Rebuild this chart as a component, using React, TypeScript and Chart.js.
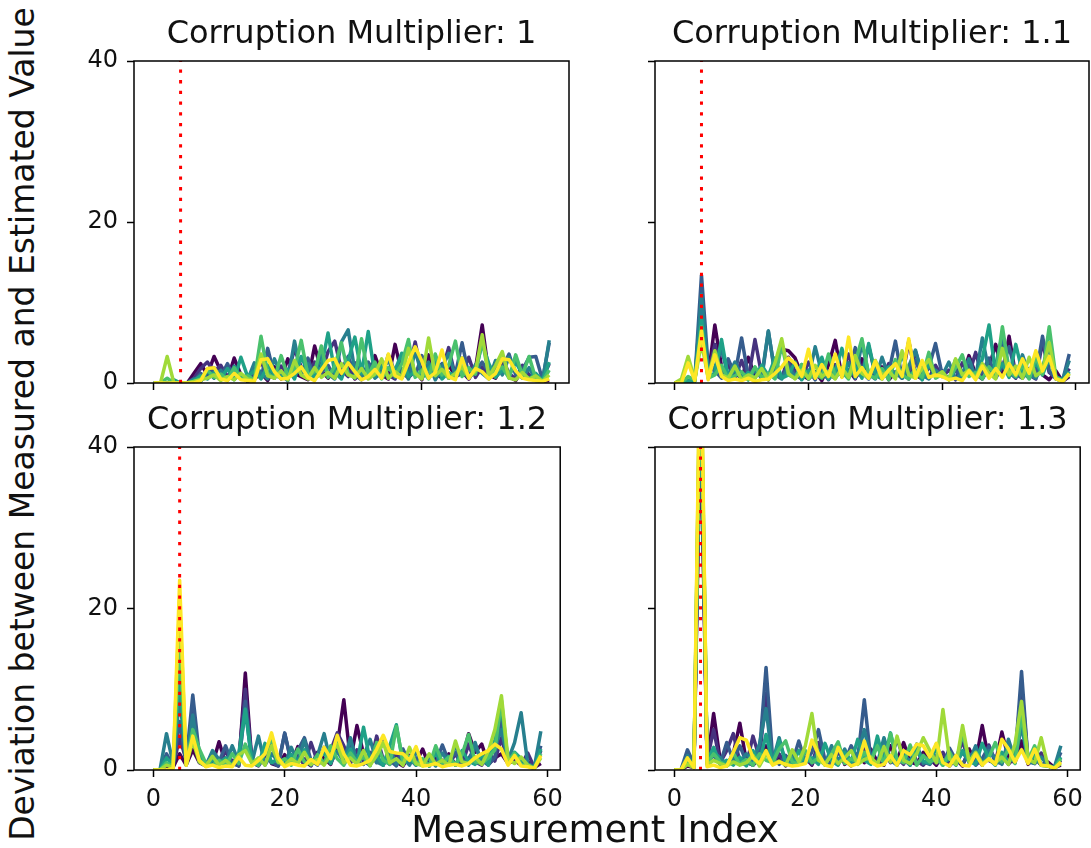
import React, { useEffect, useRef } from "react";
import { Chart, registerables } from "chart.js";

Chart.register(...registerables);

const FONT = "'DejaVu Sans', 'Liberation Sans', sans-serif";

// viridis, 8 evenly spaced samples (first run drawn at the bottom)
const SERIES_COLORS = [
  "#440154", "#46327e", "#365c8d", "#277f8e",
  "#1fa187", "#4ac16d", "#a0da39", "#fde725",
];

const TITLES = [
  "Corruption Multiplier: 1",
  "Corruption Multiplier: 1.1",
  "Corruption Multiplier: 1.2",
  "Corruption Multiplier: 1.3",
];

const CORRUPTED_INDEX = 4;
const Y_TICKS = [0, 20, 40];
const X_TICKS = [0, 20, 40, 60];
const Y_RANGE = [0, 40];
const X_RANGE = [-2.95, 61.95];

const X_LABEL = "Measurement Index";
const Y_LABEL = "Deviation between Measured and Estimated Value";

// ---- Multiplier 1 ----
const m1_s0 = [0,0,0,0,0,0,1.2,2.4,1.0,3.3, 1.5,0.4,3.1,1.0,0.2,0.5,1.2,0.3,2.0,0.5, 3.0,1.2,0.8,0.4,4.6,1.5,0.6,1.8,0.9,2.2, 0.5,1.4,0.6,3.4,1.0,0.5,4.8,1.2,0.7,1.5, 0.4,3.5,1.2,0.6,2.2,0.9,1.4,0.5,1.8,7.2, 1.0,0.6,2.3,0.8,0.3,1.6,0.5,0.4,0.2,0.3];
const m1_s1 = [0,0,0,0,0,0,0.6,1.8,2.6,1.4, 2.2,0.8,1.5,0.6,0.3,1.2,2.6,1.0,0.6,2.1, 1.2,4.2,2.0,0.9,2.6,1.0,3.9,5.2,1.6,0.8, 2.5,1.1,0.7,1.6,2.4,1.0,0.5,2.9,1.3,5.1, 1.0,2.1,0.6,1.5,4.4,0.8,1.2,3.2,0.7,2.0, 0.6,1.5,3.0,1.2,0.5,2.2,1.0,0.4,0.6,2.4];
const m1_s2 = [0,0,0,0,0,0,0.3,1.2,0.6,1.9, 0.8,2.4,0.5,1.1,0.2,1.8,0.6,4.3,0.9,1.4, 0.6,2.0,1.1,3.1,0.5,1.3,2.2,0.7,1.6,3.3, 1.0,0.4,2.6,1.2,0.8,3.5,1.3,0.6,2.0,0.9, 3.4,0.7,1.5,2.4,0.6,1.1,5.0,0.9,1.4,2.6, 1.3,0.8,1.9,3.6,1.0,1.6,3.2,3.3,0.4,5.0];
const m1_s3 = [0,0,0,0,0,0,0.5,0.2,1.4,0.6, 1.6,0.3,2.1,0.8,0.4,2.5,1.2,0.5,3.0,1.0, 0.3,5.2,1.0,2.4,0.6,3.8,1.1,0.5,5.1,6.6, 1.5,0.8,2.2,0.6,1.3,2.9,0.7,1.8,0.5,4.0, 1.0,2.6,0.4,1.9,3.7,0.8,1.5,0.6,2.3,1.2, 0.5,2.8,1.0,3.2,1.4,0.6,1.9,0.3,0.2,5.3];
const m1_s4 = [0,0,0,0.4,0,0,0.3,0.9,0.5,1.3, 0.6,1.8,0.4,3.2,0.8,1.5,0.5,2.2,1.0,0.6, 1.7,0.5,3.3,1.4,0.7,2.0,6.2,1.3,0.5,2.8, 5.7,1.2,6.4,0.9,2.1,0.6,1.6,3.7,0.8,1.4, 0.6,1.8,2.7,0.5,1.3,0.9,3.1,0.6,1.5,4.9, 2.4,0.7,1.6,0.9,2.6,1.1,0.5,1.2,0.3,2.6];
const m1_s5 = [0,0,0.6,0,0,0,0.2,0.5,1.6,0.7, 1.1,0.4,1.9,0.5,0.9,0.4,5.8,1.2,0.6,3.4, 0.8,1.6,5.3,0.9,1.4,4.6,0.7,2.1,5.0,1.2, 0.6,5.5,1.0,2.6,0.5,1.9,0.9,2.4,5.4,0.7, 1.6,0.5,3.6,1.0,2.2,5.2,0.8,1.9,1.1,5.3, 0.9,1.4,2.0,0.6,3.5,1.0,3.3,0.5,0.2,1.6];
const m1_s6 = [0,0,3.3,0,0,0,0.2,0.4,0.6,1.0, 0.3,0.8,0.4,1.2,0.5,0.3,3.6,0.9,0.6,1.5, 0.4,2.8,1.0,0.5,1.9,0.7,1.3,0.6,2.4,1.0, 0.7,1.8,0.5,1.1,3.0,0.6,1.4,0.8,4.3,1.2, 0.5,5.6,0.9,1.7,0.6,1.2,2.0,0.7,1.5,6.0, 0.8,2.2,3.9,0.6,0.4,1.3,0.5,0.9,0.2,1.0];
const m1_s7 = [0,0,0,0,0,0,0,0.3,1.8,1.9, 0.5,0.3,1.2,0.4,0.3,0.2,2.9,3.0,1.4,0.5, 0.6,1.2,2.0,0.7,0.3,1.6,2.8,3.0,1.2,2.5, 1.4,0.4,0.8,1.7,0.6,3.6,0.9,0.5,2.6,4.5, 2.7,0.6,1.3,4.1,0.8,0.4,3.1,0.6,1.8,1.4, 0.5,1.2,3.0,2.9,1.5,0.6,0.4,0.3,0.2,0.5];

// ---- Multiplier 1.1 ----
const m11_s0 = [0,0,0.3,0.5,6.0,0.8,7.2,2.0,0.5,1.2, 0.6,3.2,0.8,1.5,0.4,2.6,4.2,4.0,3.1,1.0, 0.5,1.4,0.3,2.2,5.3,0.8,1.6,0.5,3.0,1.2, 0.7,2.0,0.4,1.3,0.6,5.2,1.0,0.5,2.1,0.9, 1.5,0.4,1.9,0.7,3.4,1.1,0.5,2.0,4.8,1.3, 5.8,0.9,1.6,0.6,2.4,1.0,0.4,1.5,0.2,0.8];
const m11_s1 = [0,0,0.2,0.6,9.0,1.2,4.8,1.0,2.2,0.6, 2.8,0.5,5.4,1.0,0.8,1.9,0.6,3.2,1.4,0.5, 2.6,0.9,1.7,0.4,2.3,1.1,3.6,0.7,1.5,4.6, 1.0,0.6,2.4,0.9,1.8,0.5,3.9,1.2,0.6,2.2, 0.8,1.6,0.4,2.5,1.0,3.8,0.7,1.9,1.2,5.6, 1.4,0.6,2.8,1.0,0.5,5.1,1.3,0.6,0.3,1.8];
const m11_s2 = [0,0,0,0.4,13.4,2.0,1.5,0.6,3.0,1.0, 5.6,0.8,1.9,0.5,6.4,1.2,0.7,2.4,1.0,0.5, 1.6,0.4,2.6,1.0,0.6,1.8,0.9,4.4,1.3,0.5, 2.0,0.8,1.3,5.2,0.6,1.5,2.8,0.7,1.9,4.9, 1.0,0.5,1.6,0.4,2.2,0.8,1.4,3.1,0.6,2.0, 4.5,1.1,0.6,1.8,0.9,5.8,1.5,0.5,0.3,3.6];
const m11_s3 = [0,0,0,0.3,11.0,1.5,2.0,4.2,0.8,2.6, 1.0,0.4,1.6,0.8,6.5,1.0,0.5,1.9,0.7,2.3, 0.6,4.5,1.2,0.5,1.7,0.9,2.5,0.6,5.0,1.1, 0.5,3.2,0.8,1.4,0.6,2.1,4.1,1.0,0.5,1.6, 0.9,2.6,0.5,1.2,3.0,0.7,5.6,1.4,2.2,6.0, 1.2,0.7,3.5,1.0,0.6,2.0,4.4,0.8,0.4,2.8];
const m11_s4 = [0,0,0.3,0.2,8.0,0.9,1.2,5.4,0.6,1.7, 0.5,1.3,0.6,2.2,0.9,3.1,0.6,1.0,2.6,0.4, 1.5,0.8,3.2,0.5,1.4,4.3,0.8,2.0,0.6,4.9, 1.0,0.5,2.0,0.7,3.6,0.9,1.6,0.4,2.4,0.8, 1.3,0.5,2.9,0.8,1.6,0.6,3.0,7.2,1.0,2.4, 0.7,4.8,1.3,0.6,2.5,1.0,3.1,0.5,0.2,1.4];
const m11_s5 = [0,0,0.8,0.4,7.0,0.6,1.0,2.2,0.5,0.9, 1.4,0.4,2.0,0.7,1.2,0.5,4.8,1.0,0.6,2.3, 0.5,1.2,0.6,3.6,0.9,1.4,0.5,2.6,5.5,1.0, 0.6,1.8,0.4,2.9,1.0,0.5,1.6,0.7,3.8,0.6, 1.1,0.4,1.9,3.5,0.8,1.3,0.5,2.0,1.0,7.0, 1.6,0.8,2.2,0.5,3.2,1.1,7.0,0.7,0.3,1.2];
const m11_s6 = [0,0.5,3.3,0.4,5.0,0.7,4.0,1.0,0.6,2.1, 0.4,1.0,0.6,1.8,0.4,2.5,5.5,1.2,0.5,1.6, 0.6,2.2,0.8,1.4,0.5,1.9,0.7,3.4,1.2,0.6, 2.8,0.9,1.5,0.5,4.0,1.0,0.6,1.8,2.9,0.8, 1.4,0.4,3.0,1.0,1.6,0.6,2.4,1.2,0.5,4.3, 1.0,2.1,0.6,3.2,0.9,1.5,5.0,0.6,0.2,1.1];
const m11_s7 = [0,0,2.5,0.3,6.5,0.4,3.5,0.8,0.3,0.5, 0.3,0.6,0.2,0.4,0.5,1.2,2.0,3.1,2.4,0.8, 4.2,0.6,2.3,0.8,3.6,0.7,5.7,0.8,1.9,0.6, 2.7,0.5,1.6,2.4,0.8,5.5,0.6,2.8,0.7,1.0, 0.8,0.4,0.6,0.3,1.5,0.4,2.1,0.6,1.8,0.7, 2.4,1.0,3.0,1.2,4.0,1.5,3.3,0.5,0.2,1.2];

// ---- Multiplier 1.2 ----
const m12_s0 = [0,0,0.5,0.3,2.0,0.6,2.5,0.9,0.5,0.7, 3.5,0.8,1.2,0.5,12.0,1.0,0.6,2.6,0.8,0.5, 1.9,0.7,2.9,1.1,0.5,2.2,1.4,0.7,3.0,8.7, 1.2,5.5,2.0,0.8,1.6,0.6,2.4,1.0,0.5,1.8, 0.9,2.6,0.5,1.4,0.8,2.0,0.6,1.3,4.5,2.2, 3.2,0.7,1.5,2.0,0.8,1.2,0.6,1.0,0.3,0.8];
const m12_s1 = [0,0,0.8,0.4,4.0,1.2,7.2,1.5,0.6,1.2, 0.7,2.4,0.6,1.3,10.0,0.9,0.5,1.7,3.1,0.6, 4.5,1.0,1.8,0.6,3.4,1.0,0.8,2.4,4.6,3.0, 0.8,2.5,1.1,0.6,4.2,1.3,0.7,2.0,0.9,1.4, 0.6,1.2,0.5,2.3,1.0,0.7,2.0,0.6,3.2,1.0, 0.6,2.4,1.1,4.0,0.8,1.5,0.6,2.1,0.3,2.4];
const m12_s2 = [0,0,2.0,0.5,6.0,1.0,9.3,1.8,0.7,2.0, 1.0,3.0,0.8,0.5,8.5,1.4,0.6,2.2,1.0,0.5, 4.6,0.9,2.4,4.0,1.2,0.6,2.8,1.4,3.5,1.0, 3.6,1.1,0.7,2.2,0.9,4.0,1.2,0.5,2.6,0.8, 1.5,0.6,1.9,0.8,3.1,1.0,2.2,0.7,1.4,2.8, 1.2,0.6,1.6,6.8,0.9,2.0,1.0,0.5,0.3,3.0];
const m12_s3 = [0,0,4.5,0.8,9.0,1.2,6.8,1.0,0.5,2.4, 1.3,0.6,3.0,1.0,7.6,0.9,4.2,0.6,2.0,1.1, 0.7,2.8,1.0,3.7,0.6,1.8,4.5,0.9,2.3,1.0, 4.0,0.9,1.7,3.8,1.0,0.6,2.6,0.7,1.5,0.6, 2.3,0.8,1.4,0.5,2.1,0.9,3.0,1.3,0.6,3.4, 0.8,1.6,2.9,5.0,1.2,3.4,7.1,0.8,0.3,4.8];
const m12_s4 = [0,0,1.5,0.6,12.0,0.8,4.0,1.6,0.6,1.2, 0.8,1.5,0.5,2.0,7.5,1.1,0.6,3.3,0.9,1.4, 0.6,1.9,0.9,2.5,0.7,1.5,2.1,0.8,3.9,1.2, 2.6,0.7,5.3,1.1,1.8,0.6,3.0,5.6,0.8,1.5, 0.6,1.2,0.5,2.1,0.8,1.7,0.6,2.4,1.1,0.7, 1.9,0.6,3.7,8.0,1.0,2.2,1.4,0.6,0.2,2.6];
const m12_s5 = [0,0,0.9,0.4,16.0,0.7,5.0,2.6,0.8,0.6, 1.2,0.5,2.0,0.8,3.2,1.0,0.6,2.2,4.0,0.9, 1.4,0.6,2.6,1.0,0.7,1.9,0.8,3.0,1.4,0.6, 2.1,1.0,1.6,0.5,3.4,1.2,0.7,5.4,1.1,1.7, 0.7,1.4,0.5,3.0,0.9,1.6,0.6,1.9,4.4,1.0, 0.8,1.5,2.5,8.6,1.0,2.1,0.7,0.5,0.2,2.0];
const m12_s6 = [0,0,0.6,0.3,21.0,0.6,3.6,1.0,0.5,1.7, 0.6,1.2,0.5,1.9,2.4,0.8,1.5,0.6,3.0,1.0, 0.6,1.4,0.8,2.2,0.7,1.3,0.6,1.9,3.2,0.9, 1.5,0.7,2.4,0.6,1.8,3.4,0.9,1.4,0.6,2.8, 0.8,0.5,2.0,0.7,1.2,0.6,3.6,1.0,0.8,1.6, 0.7,2.3,5.0,9.2,1.4,0.8,1.6,0.6,0.2,1.5];
const m12_s7 = [0,0,0,0.2,23.5,0.6,4.2,1.2,0.4,0.6, 0.3,0.5,0.4,1.6,0.6,0.5,1.2,2.0,4.6,1.5, 0.4,0.8,0.6,0.5,1.3,0.7,2.8,1.4,4.3,2.0, 0.6,0.5,0.8,1.2,2.6,4.3,2.3,2.1,2.0,1.2, 2.9,0.5,0.6,0.8,0.4,0.6,0.7,0.5,0.8,1.5, 2.0,2.4,3.2,2.6,0.6,1.8,0.5,0.4,0.2,1.8];

// ---- Multiplier 1.3 ----
const m13_s0 = [0,0,0.5,0.3,44,0.8,7.0,1.2,0.6,2.0, 5.8,1.0,0.6,1.4,3.0,0.8,1.6,0.5,2.3,0.9, 1.5,0.6,2.4,0.8,1.2,3.1,0.7,1.4,2.0,0.9, 2.6,1.0,0.6,3.0,1.2,3.4,1.0,0.7,2.2,1.4, 0.6,1.9,0.8,1.3,0.5,2.6,1.0,5.5,1.2,0.8, 4.7,1.4,0.9,3.6,0.7,1.5,0.6,1.0,0.3,0.6];
const m13_s1 = [0,0,0.8,0.6,46,1.2,5.0,0.9,2.4,4.5, 1.0,0.6,4.2,1.5,9.5,0.8,2.0,0.6,1.4,0.9, 2.3,0.7,3.4,1.0,0.6,2.2,1.2,0.5,1.8,2.7, 1.0,0.6,2.5,0.9,1.5,0.7,2.9,1.1,0.6,1.6, 0.8,2.2,0.5,1.4,3.6,0.9,1.5,0.6,3.1,1.1, 2.0,0.7,1.6,10.5,1.2,0.8,2.1,0.5,0.3,1.2];
const m13_s2 = [0,0,2.5,0.7,48,1.0,1.8,0.8,3.4,1.2, 3.0,1.0,0.6,2.2,12.7,1.5,0.7,1.8,0.9,3.6, 1.0,2.2,5.0,1.2,0.6,2.6,1.0,3.0,1.4,8.7, 1.2,0.7,2.0,1.0,3.9,1.3,0.6,2.4,1.0,0.7, 1.8,0.6,2.7,1.2,0.8,2.0,0.6,1.4,2.9,1.0, 0.8,2.5,1.3,12.2,1.0,2.0,0.7,0.5,0.3,2.2];
const m13_s3 = [0,0,1.8,0.5,50,0.9,2.2,1.5,0.7,1.3, 0.8,2.0,1.1,3.2,7.6,1.0,4.0,0.8,2.1,0.7, 1.5,0.9,2.4,0.6,3.0,1.1,2.6,0.8,1.9,5.0, 1.4,0.8,4.0,1.2,0.6,2.0,1.0,3.2,0.8,1.3, 2.6,0.7,1.5,0.9,2.2,1.0,3.0,0.6,2.4,1.5, 0.7,3.8,1.2,5.5,1.0,0.8,1.6,0.6,0.3,3.0];
const m13_s4 = [0,0,1.2,0.6,52,1.1,2.8,0.7,1.2,0.6, 1.6,0.5,2.4,0.9,4.4,0.8,3.6,1.0,0.6,2.4, 0.9,1.5,0.7,3.3,1.1,0.6,2.2,1.0,3.8,1.2, 0.7,4.2,1.0,4.6,0.8,1.6,0.6,2.6,1.1,0.8, 3.2,0.9,1.4,0.6,2.4,1.1,0.7,3.3,1.4,0.6, 2.2,1.0,1.6,6.5,0.9,1.8,0.6,0.5,0.2,1.6];
const m13_s5 = [0,0,0.9,0.4,54,0.8,2.0,1.0,0.5,2.1, 0.7,1.3,0.6,2.0,1.2,0.9,2.6,3.6,1.0,0.7, 2.4,0.9,1.5,0.6,2.0,3.5,0.8,1.4,0.9,2.2, 1.0,3.0,0.7,4.5,1.4,0.9,3.1,0.6,1.8,1.0, 1.4,0.6,2.2,0.8,4.6,1.0,2.0,0.7,1.5,3.4, 1.0,2.6,0.8,7.0,1.2,3.0,0.6,0.5,0.2,1.4];
const m13_s6 = [0,0,0.7,0.3,56,0.6,1.2,0.8,0.5,1.0, 0.6,0.9,1.8,0.5,2.0,0.7,1.1,0.6,2.5,1.0, 3.0,7.0,1.2,0.7,1.9,0.8,1.5,2.4,0.7,1.3, 1.6,0.7,2.9,1.0,4.2,1.2,0.8,2.0,4.0,2.4, 0.9,7.5,1.4,0.7,5.5,1.0,2.2,0.8,1.3,0.9, 1.6,0.7,3.2,8.5,1.4,0.9,4.0,0.6,0.2,0.8];
const m13_s7 = [0,0,1.5,0.3,58,0.4,0.6,0.3,0.5,2.2, 4.0,3.7,1.5,0.8,2.4,0.6,1.0,0.7,0.5,0.6, 0.8,3.7,2.0,0.6,0.4,2.8,1.2,0.5,0.8,3.6, 1.0,0.5,0.7,1.8,0.6,2.4,1.9,3.2,3.0,1.6, 3.3,0.9,0.5,1.8,0.6,0.5,2.0,0.6,1.4,0.7, 3.8,2.6,1.0,2.5,0.8,2.6,0.6,0.5,0.2,1.0];

const PANEL_SERIES = [
  [m1_s0, m1_s1, m1_s2, m1_s3, m1_s4, m1_s5, m1_s6, m1_s7],
  [m11_s0, m11_s1, m11_s2, m11_s3, m11_s4, m11_s5, m11_s6, m11_s7],
  [m12_s0, m12_s1, m12_s2, m12_s3, m12_s4, m12_s5, m12_s6, m12_s7],
  [m13_s0, m13_s1, m13_s2, m13_s3, m13_s4, m13_s5, m13_s6, m13_s7],
];

// ---- layout (pixels) ----
const PLOT_LEFT = [134, 655];
const PLOT_RIGHT = [569, 1089];
const PLOT_TOP = [61, 447];
const PLOT_BOTTOM = [383, 770];
const Y_AXIS_W = 60;
const RIGHT_PAD = 2;
const TITLE_BOX = 48;
const BOTTOM_PAD = [36, 50];

const TICK_FONT = 24;
const TITLE_FONT = 32;
const LINE_W = 3.5;

// draws all four spines over the lines
const framePlugin = {
  id: "frame",
  afterDatasetsDraw(chart: any) {
    const { ctx, chartArea: a } = chart;
    ctx.save();
    ctx.strokeStyle = "#000";
    ctx.lineWidth = 1.5;
    ctx.strokeRect(a.left, a.top, a.right - a.left, a.bottom - a.top);
    ctx.restore();
  },
};

function Panel({ index }: { index: number }) {
  const ref = useRef<HTMLCanvasElement>(null);
  const row = Math.floor(index / 2);
  const col = index % 2;
  const left = PLOT_LEFT[col] - Y_AXIS_W;
  const top = PLOT_TOP[row] - TITLE_BOX;
  const width = PLOT_RIGHT[col] - PLOT_LEFT[col] + Y_AXIS_W + RIGHT_PAD;
  const height = PLOT_BOTTOM[row] - PLOT_TOP[row] + TITLE_BOX + BOTTOM_PAD[row];
  const showX = row === 1;
  const showY = col === 0;

  useEffect(() => {
    const series = PANEL_SERIES[index];
    const datasets: any[] = series.map((vals, i) => ({
      data: vals.map((y, x) => ({ x, y })),
      borderColor: SERIES_COLORS[i],
      borderWidth: LINE_W,
      borderJoinStyle: "round",
      borderCapStyle: "butt",
      pointRadius: 0,
      tension: 0,
      clip: 0,
      order: series.length - i,
    }));
    datasets.push({
      data: [
        { x: CORRUPTED_INDEX, y: Y_RANGE[0] },
        { x: CORRUPTED_INDEX, y: Y_RANGE[1] },
      ],
      borderColor: "#ff0000",
      borderWidth: 3,
      borderDash: [3.3, 7.4],
      borderCapStyle: "butt",
      pointRadius: 0,
      clip: 0,
      order: 0,
    });

    const chart = new Chart(ref.current as HTMLCanvasElement, {
      type: "line",
      data: { datasets },
      plugins: [framePlugin],
      options: {
        responsive: false,
        animation: false,
        devicePixelRatio: 1,
        events: [],
        layout: { padding: { left: 0, right: RIGHT_PAD, top: 0, bottom: 0 } },
        plugins: {
          legend: { display: false },
          tooltip: { enabled: false },
          title: {
            display: true,
            fullSize: false,
            text: TITLES[index],
            color: "#111",
            font: { family: FONT, size: TITLE_FONT, weight: "normal", lineHeight: 1.2 },
            padding: { top: 2.5, bottom: TITLE_BOX - TITLE_FONT * 1.2 - 2.5 },
          },
        },
        scales: {
          x: {
            type: "linear",
            min: X_RANGE[0],
            max: X_RANGE[1],
            afterBuildTicks: (s: any) => {
              s.ticks = X_TICKS.map((v) => ({ value: v }));
            },
            afterFit: (s: any) => {
              s.height = BOTTOM_PAD[row];
            },
            ticks: {
              display: showX,
              color: "#111",
              font: { family: FONT, size: TICK_FONT },
              padding: 8,
              maxRotation: 0,
              autoSkip: false,
            },
            grid: {
              display: true,
              drawOnChartArea: false,
              drawTicks: true,
              tickLength: 7,
              tickWidth: 1.5,
              tickColor: "#000",
            },
            border: { display: false },
          },
          y: {
            type: "linear",
            min: Y_RANGE[0],
            max: Y_RANGE[1],
            afterBuildTicks: (s: any) => {
              s.ticks = Y_TICKS.map((v) => ({ value: v }));
            },
            afterFit: (s: any) => {
              s.width = Y_AXIS_W;
            },
            ticks: {
              display: showY,
              color: "#111",
              font: { family: FONT, size: TICK_FONT },
              padding: 9,
              autoSkip: false,
            },
            grid: {
              display: true,
              drawOnChartArea: false,
              drawTicks: true,
              tickLength: 7,
              tickWidth: 1.5,
              tickColor: "#000",
            },
            border: { display: false },
          },
        },
      },
    });
    return () => chart.destroy();
  }, [index]);

  return (
    <canvas
      ref={ref}
      width={width}
      height={height}
      style={{ position: "absolute", left, top, width, height }}
    />
  );
}

export default function App() {
  return (
    <div
      style={{
        position: "absolute",
        left: 0,
        top: 0,
        width: 1091,
        height: 848,
        background: "#fff",
        overflow: "hidden",
        fontFamily: FONT,
        color: "#111",
      }}
    >
      {[0, 1, 2, 3].map((i) => (
        <Panel key={i} index={i} />
      ))}
      <div
        style={{
          position: "absolute",
          left: 595,
          top: 829,
          transform: "translate(-50%, -50%)",
          fontSize: 37,
          whiteSpace: "nowrap",
          lineHeight: 1,
        }}
      >
        {X_LABEL}
      </div>
      <div
        style={{
          position: "absolute",
          left: 22,
          top: 424,
          transform: "translate(-50%, -50%) rotate(-90deg)",
          fontSize: 33,
          whiteSpace: "nowrap",
          lineHeight: 1,
        }}
      >
        {Y_LABEL}
      </div>
    </div>
  );
}
